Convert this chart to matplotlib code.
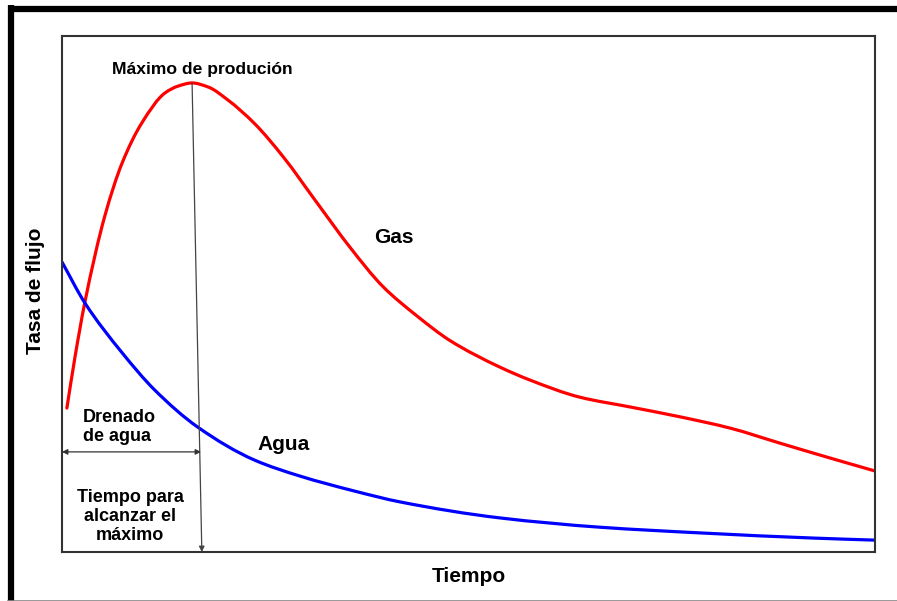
import matplotlib.pyplot as plt
from matplotlib.lines import Line2D
from matplotlib.path import Path
from matplotlib.patches import PathPatch

plt.rcParams['font.family'] = ['Liberation Sans', 'DejaVu Sans']

# curve readings (time, rate) in arbitrary units
t_gas = [0.06, 0.16, 0.28, 0.53, 0.74, 0.98, 1.27, 1.43, 1.60, 1.80, 2.04, 2.37, 2.72,
         3.14, 3.54, 3.95, 4.37, 4.77, 5.39, 5.76, 6.37, 6.99, 7.60, 8.22, 8.83, 9.45, 10.0]
q_gas = [2.79, 3.78, 4.83, 6.53, 7.54, 8.31, 8.90, 9.03, 9.09, 9.01, 8.76, 8.30, 7.66,
         6.76, 5.91, 5.14, 4.57, 4.10, 3.58, 3.33, 3.00, 2.81, 2.62, 2.40, 2.11, 1.82, 1.57]

t_agua = [0.0, 0.28, 0.74, 1.14, 1.67, 2.37, 2.93, 3.60, 4.16, 5.39, 6.62, 7.85, 9.24, 10.0]
q_agua = [5.62, 4.83, 3.86, 3.14, 2.42, 1.78, 1.47, 1.18, 0.97, 0.66, 0.48, 0.37, 0.27, 0.23]

t_drenado = 1.71   # end of the water drainage span


def smooth_path(xs, ys):
    # monotone cubic (Fritsch-Carlson) through the read points, as Bezier segments
    n = len(xs)
    h = [xs[i + 1] - xs[i] for i in range(n - 1)]
    d = [(ys[i + 1] - ys[i]) / h[i] for i in range(n - 1)]
    m = [d[0]] + [0.0] * (n - 2) + [d[-1]]
    for i in range(1, n - 1):
        if d[i - 1] * d[i] > 0:
            w1 = 2 * h[i] + h[i - 1]
            w2 = h[i] + 2 * h[i - 1]
            m[i] = (w1 + w2) / (w1 / d[i - 1] + w2 / d[i])
    verts = [(xs[0], ys[0])]
    codes = [Path.MOVETO]
    for i in range(n - 1):
        verts += [(xs[i] + h[i] / 3, ys[i] + m[i] * h[i] / 3),
                  (xs[i + 1] - h[i] / 3, ys[i + 1] - m[i + 1] * h[i] / 3),
                  (xs[i + 1], ys[i + 1])]
        codes += [Path.CURVE4] * 3
    return Path(verts, codes)


fig = plt.figure(figsize=(8.97, 6.01), dpi=100)
ax = fig.add_axes([62/897, 49/601, 813/897, 516/601])

ax.add_patch(PathPatch(smooth_path(t_gas, q_gas), fill=False, edgecolor='#ff0000',
                       lw=2.3, capstyle='round', joinstyle='round'))
ax.add_patch(PathPatch(smooth_path(t_agua, q_agua), fill=False, edgecolor='#0000ff',
                       lw=2.3, capstyle='round', joinstyle='round'))

ax.set_xlim(0, 10)
ax.set_ylim(0, 10)
ax.set_xticks([])
ax.set_yticks([])
for s in ax.spines.values():
    s.set_color('#333333')
    s.set_linewidth(1.5)

# line from the gas peak down to the time axis
i_max = q_gas.index(max(q_gas))
ax.annotate('', xy=(t_drenado + 0.01, 0.0), xytext=(t_gas[i_max], q_gas[i_max]),
            arrowprops=dict(arrowstyle='-|>', color='#444444', lw=0.9,
                            mutation_scale=8, shrinkA=0, shrinkB=0))
# double arrow for water drainage
ax.annotate('', xy=(0, 1.94), xytext=(t_drenado, 1.94),
            arrowprops=dict(arrowstyle='<|-|>', color='#333333', lw=0.9,
                            mutation_scale=8, shrinkA=0, shrinkB=0))

bold = dict(fontweight='bold', color='black')
ax.text(1.73, 9.26, 'Máximo de produción', ha='center', va='baseline', fontsize=12.6, **bold)
ax.text(4.08, 5.99, 'Gas', ha='center', va='baseline', fontsize=15, **bold)
ax.text(2.72, 1.98, 'Agua', ha='center', va='baseline', fontsize=15, **bold)
ax.text(0.26, 2.42, 'Drenado\nde agua', ha='left', va='center', fontsize=13, **bold)
ax.text(0.84, 0.68, 'Tiempo para\nalcanzar el\nmáximo', ha='center', va='center',
        multialignment='center', fontsize=13, linespacing=1.15, **bold)

ax.text(0.5, -0.047, 'Tiempo', transform=ax.transAxes, ha='center', va='center',
        fontsize=15, **bold)
ax.text(-0.033, 0.506, 'Tasa de flujo', transform=ax.transAxes, ha='center', va='center',
        rotation=90, fontsize=15, **bold)

# outer frame of the picture
W, H = 897, 601
fig.add_artist(Line2D([11/W, 11/W], [0, 1 - 5/H], transform=fig.transFigure,
                      color='black', lw=4.5, solid_capstyle='butt'))
fig.add_artist(Line2D([8/W, 1], [1 - 8.5/H, 1 - 8.5/H], transform=fig.transFigure,
                      color='black', lw=4.5, solid_capstyle='butt'))
fig.add_artist(Line2D([8/W, 1], [0.5/H, 0.5/H], transform=fig.transFigure,
                      color='#888888', lw=1.2))

fig.savefig('out.png', dpi=100)
